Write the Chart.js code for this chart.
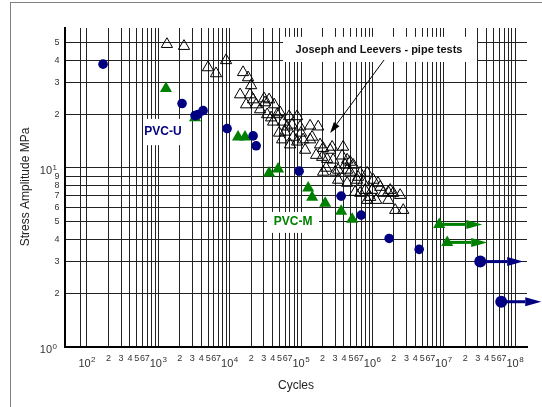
<!DOCTYPE html>
<html><head><meta charset="utf-8">
<script src="https://cdn.jsdelivr.net/npm/chart.js@4"></script>
<style>
html,body{margin:0;padding:0;background:#fff;}
#wrap{position:relative;width:542px;height:407px;overflow:hidden;}
#frame{position:absolute;left:10px;top:2px;width:600px;height:500px;border-left:1.5px solid #808080;border-top:1.5px solid #808080;}
canvas{position:absolute;left:0;top:0;}
</style></head><body>
<div id="wrap"><div id="frame"></div><canvas id="c" width="542" height="407"></canvas></div>
<script>
// PVC-U (filled navy circles)
const PVCU_N=[168,2150,3270,3600,4240,9200,21300,23500,94000,365000,697000,1.72e6,4.53e6];
const PVCU_S=[38,22.9,19.6,19.9,20.9,16.6,15.1,13.3,9.6,6.96,5.45,4.04,3.51];
// PVC-U run-outs (arrows)
const PVCU_RUN_N=[3.25e7,6.4e7];
const PVCU_RUN_S=[3.0,1.79];
const PVCU_RUN_END=[1.3e8,2.33e8];
// PVC-M (filled green triangles)
const PVCM_N=[1280,3270,13100,16400,35700,47700,126000,143000,218000,365000,521000];
const PVCM_S=[27.8,19.1,14.9,14.9,9.37,9.87,7.72,6.87,6.36,5.73,5.17];
const PVCM_RUN_N=[8.65e6,1.12e7];
const PVCM_RUN_S=[4.84,3.84];
const PVCM_RUN_END=[3.47e7,4.07e7];
// Joseph and Leevers - pipe tests (open triangles)
const JL_N=[1320,2290,4970,6440,8900,15400,18100,20000,14000,19300,21300,17000,23500,30400,35700,42000,33500,38100,46300,40600,
  49300,59800,68100,88100,63800,75000,97000,77500,1e5,88100,1.34e5,1.74e5,1.43e5,1.85e5,2.04e5,2.73e5,3.89e5,1.98e5,2.32e5,2.25e5,
  2.04e5,3.77e5,4.43e5,4.43e5,5.38e5,6.75e5,6.12e5,7.43e5,8.46e5,1.03e6,1.29e6,1.67e6,1.96e6,56100,1.07e5,2.56e5,4.88e5,3.01e5,6.32e5,7.93e5,
  6.75e5,8.46e5,4.16e5,3.31e5,4.88e5,4.43e5,5.74e5,9.31e5,1.2e6,1.42e6,1.78e6,1.67e6,2.45e6,2.09e6,2.71e6,31300,50900,26700,1.34e5,54300,
  70300,1.14e5,1.63e5,2.82e5,3.31e5,9.93e5,1.13e6];
const JL_S=[49.1,47.9,36.4,33.7,39.9,34.2,32.0,28.9,25.7,25.7,24.1,22.6,22.6,24.4,24.1,22.6,19.9,19.1,19.9,18.1,
  15.7,15.9,19.4,19.4,17.0,17.4,17.0,14.9,15.7,14.0,17.2,17.0,14.9,13.5,12.9,13.1,13.1,11.5,11.2,10.0,
  9.5,11.7,11.1,9.75,10.4,9.38,8.57,8.34,9.38,8.57,7.82,7.33,7.24,18.1,14.4,12.6,10.8,9.5,8.9,7.52,
  7.24,6.61,10.4,9.75,9.5,8.24,7.33,6.87,8.24,7.24,7.52,6.61,7.05,5.81,5.81,23.2,20.4,21.2,14.4,14.4,
  13.5,12.6,11.8,11.1,8.57,7.52,6.61];

// axes
const X_DECADES=[2,3,4,5,6,7,8];
const X_MINOR=[2,3,4,5,6,7];
const X_EXTRA=[80];
const Y_GRID=[1,2,3,4,5,6,7,8,9,10,20,30,40,50];
const Y_LABELS=['p0','2','3','4','5','6','7','8','9','p1','2','3','4','5'];

const FONT='"Liberation Sans", Arial, sans-serif';
const NAVY='#000080', GREEN='#008000';

const X_GRID=[...X_EXTRA];
for(let d=2;d<8;d++) for(let m=1;m<10;m++) X_GRID.push(m*Math.pow(10,d));
X_GRID.push(1e8);

const pts=(xs,ys)=>xs.map((v,i)=>({x:v,y:ys[i]}));

function pow10(ctx,px,baseY,exp,align,supUp){
  ctx.font='11px '+FONT; const w1=ctx.measureText('10').width;
  ctx.font='8px '+FONT; const w2=ctx.measureText(String(exp)).width;
  const tot=w1+w2+0.5;
  const left=align==='center'?px-tot/2:px-tot;
  ctx.textAlign='left';ctx.textBaseline='alphabetic';
  ctx.font='11px '+FONT; ctx.fillText('10',left,baseY);
  ctx.font='8px '+FONT; ctx.fillText(String(exp),left+w1+0.5,baseY-supUp);
}

function arrow(ctx,x0,y0,x1,y1,color,lw,hl,hw){
  const a=Math.atan2(y1-y0,x1-x0);
  const bx=x1-Math.cos(a)*hl, by=y1-Math.sin(a)*hl;
  ctx.strokeStyle=color;ctx.fillStyle=color;ctx.lineWidth=lw;
  ctx.beginPath();ctx.moveTo(x0,y0);ctx.lineTo(bx,by);ctx.stroke();
  ctx.beginPath();ctx.moveTo(x1,y1);
  ctx.lineTo(bx+Math.sin(a)*hw,by-Math.cos(a)*hw);
  ctx.lineTo(bx-Math.sin(a)*hw,by+Math.cos(a)*hw);
  ctx.closePath();ctx.fill();
}

const decor={
  id:'decor',
  beforeDatasetsDraw(chart){
    const {ctx,scales:{x,y}}=chart;
    ctx.save();
    // white boxes behind annotation text
    ctx.fillStyle='#fff';
    const box=(n0,n1,s0,s1)=>{
      const l=x.getPixelForValue(n0),r=x.getPixelForValue(n1),t=y.getPixelForValue(s0),b=y.getPixelForValue(s1);
      ctx.fillRect(l,t,r-l,b-t);
    };
    box(5.6e4,2.93e7,54,39.1);
    box(630,2010,18.8,13.4);
    box(33300,179000,5.68,4.34);
    // run-out arrows
    PVCM_RUN_N.forEach((n,i)=>arrow(ctx,x.getPixelForValue(n),y.getPixelForValue(PVCM_RUN_S[i]),
      x.getPixelForValue(PVCM_RUN_END[i]),y.getPixelForValue(PVCM_RUN_S[i]),GREEN,3,16,4.5));
    PVCU_RUN_N.forEach((n,i)=>arrow(ctx,x.getPixelForValue(n),y.getPixelForValue(PVCU_RUN_S[i]),
      x.getPixelForValue(PVCU_RUN_END[i]),y.getPixelForValue(PVCU_RUN_S[i]),NAVY,3,16,4.5));
    ctx.restore();
  },
  afterDraw(chart){
    const {ctx,scales:{x,y},chartArea:a}=chart;
    ctx.save();
    // annotations
    ctx.textAlign='center';ctx.textBaseline='middle';
    ctx.font='bold 11px '+FONT;ctx.fillStyle='#111';
    ctx.fillText('Joseph and Leevers - pipe tests',x.getPixelForValue(1.24e6),y.getPixelForValue(45.6));
    ctx.font='bold 12px '+FONT;ctx.fillStyle=NAVY;
    ctx.fillText('PVC-U',x.getPixelForValue(1160),y.getPixelForValue(15.9));
    ctx.fillStyle=GREEN;
    ctx.fillText('PVC-M',x.getPixelForValue(77300),y.getPixelForValue(4.99));
    arrow(ctx,x.getPixelForValue(1.46e6),y.getPixelForValue(40.1),x.getPixelForValue(2.56e5),y.getPixelForValue(15.7),'#000',1,11,3.5);
    // x tick labels
    ctx.fillStyle='#333';
    X_DECADES.forEach(d=>{
      if(d<8){
        ctx.font='9px '+FONT;ctx.textAlign='center';ctx.textBaseline='middle';
        X_MINOR.forEach(m=>ctx.fillText(String(m),x.getPixelForValue(m*Math.pow(10,d)),a.bottom+12));
      }
      pow10(ctx,x.getPixelForValue(Math.pow(10,d)),a.bottom+20,d,'center',5);
    });
    // y tick labels
    Y_GRID.forEach((v,i)=>{
      const py=y.getPixelForValue(v),lab=Y_LABELS[i];
      if(lab[0]==='p'){pow10(ctx,57,py+6,lab.slice(1),'right',4);}
      else{ctx.font='9px '+FONT;ctx.textAlign='right';ctx.textBaseline='middle';ctx.fillText(lab,59.5,py);}
    });
    // axis titles
    ctx.fillStyle='#222';ctx.font='12px '+FONT;ctx.textAlign='center';ctx.textBaseline='middle';
    ctx.fillText('Cycles',(a.left+a.right)/2+0,386);
    ctx.translate(26,187);ctx.rotate(-Math.PI/2);
    ctx.fillText('Stress Amplitude MPa',0,0);
    ctx.restore();
  }
};

Chart.defaults.font.family=FONT;
new Chart(document.getElementById('c'),{
  type:'scatter',
  data:{datasets:[
    {label:'PVC-U',data:pts(PVCU_N,PVCU_S),pointStyle:'circle',pointRadius:4.8,backgroundColor:NAVY,borderColor:NAVY,borderWidth:0},
    {label:'PVC-U run-out',data:pts(PVCU_RUN_N,PVCU_RUN_S),pointStyle:'circle',pointRadius:6,backgroundColor:NAVY,borderColor:NAVY,borderWidth:0},
    {label:'PVC-M',data:pts(PVCM_N,PVCM_S),pointStyle:'triangle',pointRadius:7,backgroundColor:GREEN,borderColor:GREEN,borderWidth:0},
    {label:'PVC-M run-out',data:pts(PVCM_RUN_N,PVCM_RUN_S),pointStyle:'triangle',pointRadius:7,backgroundColor:GREEN,borderColor:GREEN,borderWidth:0},
    {label:'Joseph and Leevers',data:pts(JL_N,JL_S),pointStyle:'triangle',pointRadius:6.5,backgroundColor:'rgba(0,0,0,0)',borderColor:'#000',borderWidth:1}
  ]},
  options:{
    responsive:false,animation:false,
    layout:{padding:{left:65,right:15,top:28,bottom:60}},
    plugins:{legend:{display:false},tooltip:{enabled:false}},
    scales:{
      x:{type:'logarithmic',min:49.2,max:1.47e8,
        afterBuildTicks:s=>{s.ticks=X_GRID.map(v=>({value:v}));},
        afterFit:s=>{s.height=0;},
        ticks:{display:false},
        grid:{color:'#222',lineWidth:1,drawTicks:false},
        border:{display:true,color:'#000',width:2}},
      y:{type:'logarithmic',min:1,max:60.5,
        afterBuildTicks:s=>{s.ticks=Y_GRID.map(v=>({value:v}));},
        afterFit:s=>{s.width=0;},
        ticks:{display:false},
        grid:{color:'#222',lineWidth:1,drawTicks:false},
        border:{display:true,color:'#000',width:2}}
    }
  },
  plugins:[decor]
});
</script>
</body></html>
